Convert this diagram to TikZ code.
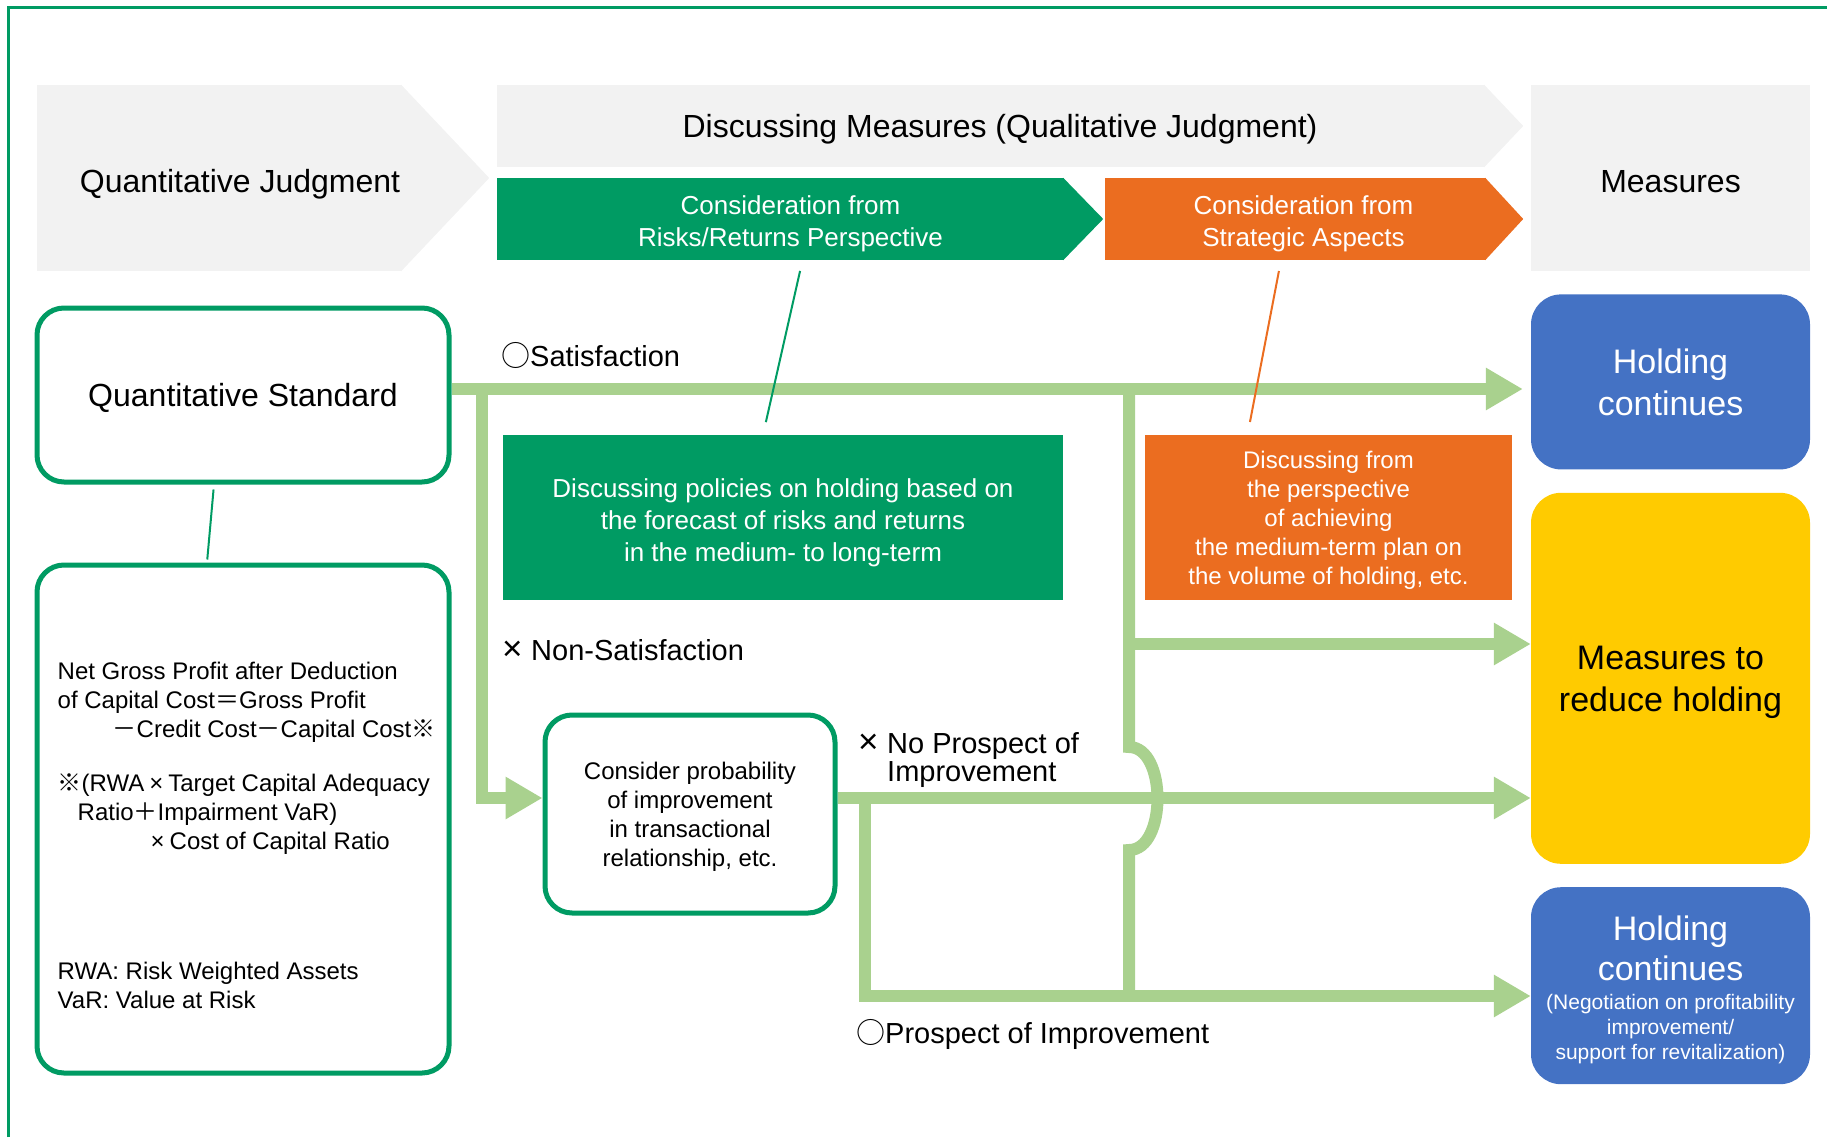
\documentclass[tikz,border=0pt]{standalone}
\usepackage{fontspec}
\setmainfont{Liberation Sans}
\newfontfamily\cjk{Noto Sans CJK JP}
\newcommand\jp[1]{{\cjk #1}}
\newcommand\tms{\makebox[1em]{×}}
\newcommand\lbx{\makebox[1em][l]{\fontsize{35}{35}\selectfont ×}}
\usetikzlibrary{arrows.meta,positioning,calc}
\definecolor{FlowGray}{HTML}{F2F2F2}
\definecolor{FlowGreen}{HTML}{009B63}
\definecolor{FlowOrange}{HTML}{EB6D20}
\definecolor{FlowBlue}{HTML}{4472C4}
\definecolor{FlowYellow}{HTML}{FFCB00}
\definecolor{FlowLight}{HTML}{A9D18E}
\begin{document}
\begin{tikzpicture}[x=1pt,y=-1pt,
    every node/.style={align=center,inner sep=0pt},
    headbox/.style={fill=FlowGray,minimum height=186pt,font={\fontsize{32}{38}\selectfont}},
    subchev/.style={minimum height=82pt},
    chevtext/.style={text=white,font={\fontsize{26}{32}\selectfont}},
    resultbox/.style={rounded corners=30pt,minimum width=279pt,text=white,font={\fontsize{34}{42}\selectfont}},
    stdbox/.style={draw=FlowGreen,line width=5pt,rounded corners=27pt,fill=white},
    notebox/.style={minimum height=165pt,text=white},
    cond/.style={font={\fontsize{29}{29}\selectfont},anchor=west},
    flow/.style={draw=FlowLight,line width=12pt,-{Triangle[length=37pt,width=40pt]}},
    flowline/.style={draw=FlowLight,line width=12pt},
    link/.style={line width=2pt}]
    \useasboundingbox (0,0) rectangle (1827,1137);
    \draw[FlowGreen,line width=3pt] (8,1137) -- (8,8) -- (1827,8);
    % top row
    \node[headbox,minimum width=365pt] (qj) at (219.5,178) {};
    \node[headbox,minimum width=988pt,minimum height=82pt] (dm) at (991,126) {};
    \node[subchev,fill=FlowGreen,minimum width=567pt] (rr) at (780.5,219) {};
    \node[subchev,fill=FlowOrange,minimum width=381pt] (sa) at (1295.5,219) {};
    \foreach \n/\d/\c in {qj/87/FlowGray,dm/38/FlowGray,rr/39/FlowGreen,sa/37/FlowOrange}{\fill[\c] ($(\n.north east)+(-1,0)$) -- ($(\n.east)+(\d,0)$) -- ($(\n.south east)+(-1,0)$) -- cycle;}
    \node[font={\fontsize{32}{38}\selectfont}] (qjtext) at (240,184) {Quantitative Judgment};
    \node[font={\fontsize{32}{38}\selectfont}] (dmtext) at ($(dm)+(9,3.5)$) {Discussing Measures (Qualitative Judgment)};
    \node[chevtext] (rrtext) at ($(rr)+(10,4.5)$) {Consideration from\\Risks/Returns Perspective};
    \node[chevtext] (satext) at ($(sa)+(8,4.5)$) {Consideration from\\Strategic Aspects};
    % measures column
    \node[headbox,minimum width=279pt,text depth=0pt,text height=28pt] (meas) at (1670.5,178) {Measures};
    \node[resultbox,fill=FlowBlue,minimum height=175pt,text depth=0pt,below=23pt of meas] (hold) {Holding\\continues};
    \node[resultbox,fill=FlowYellow,text=black,minimum height=371pt,text depth=0pt,below=23pt of hold] (reduce) {Measures to\\reduce holding};
    \node[resultbox,fill=FlowBlue,minimum height=197pt,below=23pt of reduce] (hold2) {};
    \node[text=white,font={\fontsize{34}{40}\selectfont}] (hold2a) at ($(hold2.north)+(0,61)$) {Holding\\continues};
    \node[text=white,font={\fontsize{21}{25}\selectfont}] (hold2b) at ($(hold2.north)+(0,142.5)$) {(Negotiation on profitability\\improvement/\\support for revitalization)};
    % left column
    \node[stdbox,minimum width=412pt,minimum height=174pt,text depth=0pt,font={\fontsize{32}{38}\selectfont}] (qs) at (243,395) {Quantitative Standard};
    \node[stdbox,minimum width=412pt,minimum height=508pt,below=78pt of qs] (fbox) {};
    \node[anchor=north west,align=left,font={\fontsize{24}{29}\selectfont}] (ftext) at ($(fbox.north west)+(23,99)$) {Net Gross Profit after Deduction\\of Capital Cost\jp{＝}Gross Profit\\\hspace*{55pt}\jp{－}Credit Cost\jp{－}Capital Cost\jp{※}\\[25pt]\jp{※}(RWA\tms Target Capital Adequacy\\\hspace*{20pt}Ratio\jp{＋}Impairment VaR)\\\hspace*{88pt}\tms Cost of Capital Ratio\\[101.5pt]RWA: Risk Weighted Assets\\VaR: Value at Risk};
    % middle
    \node[notebox,fill=FlowGreen,minimum width=560pt,text depth=0pt,text height=88pt,font={\fontsize{26}{32}\selectfont}] (gbox) at (783,517.5) {Discussing policies on holding based on\\the forecast of risks and returns\\in the medium- to long-term};
    \node[notebox,fill=FlowOrange,minimum width=367pt,text depth=0pt,font={\fontsize{24}{29}\selectfont}] (obox) at (1328.5,517.5) {Discussing from\\the perspective\\of achieving\\the medium-term plan on\\the volume of holding, etc.};
    \node[stdbox,minimum width=290pt,minimum height=198pt,text depth=0pt,font={\fontsize{24}{29}\selectfont}] (cons) at (690,814) {Consider probability\\of improvement\\in transactional\\relationship, etc.};
    % labels
    \node[cond] (sat) at (501,355) {\jp{○}Satisfaction};
    \node[cond] (nsat) at (502,650) {\lbx Non-Satisfaction};
    \node[cond,align=left] (noimp) at (858,760.5) {\lbx No Prospect of\\[-1pt]\phantom{\lbx}Improvement};
    \node[cond] (imp) at (856,1034) {\jp{○}Prospect of Improvement};
    % flow lines
    \coordinate (splitL) at (482,389);
    \coordinate (splitR) at (1129,389);
    \coordinate (branch) at (1129,644);
    \coordinate (hopT) at (1129,747);
    \coordinate (hopB) at (1129,850);
    \coordinate (joinB) at (1129,996);
    \coordinate (splitP) at (865,798);
    \draw[flow,shorten >=8pt] ([yshift=6pt]qs.east) -- ([yshift=6pt]qs.east -| hold.west);
    \draw[flow] (splitL) |- (cons.west |- splitP);
    \draw[flowline] (splitR) -- (hopT) .. controls (1167,747) and (1167,850) .. (hopB) -- (joinB);
    \draw[flow] (branch) -- (branch -| reduce.west);
    \draw[flow] ([yshift=16pt]cons.east) -- ([yshift=16pt]cons.east -| reduce.west);
    \draw[flow] (splitP) |- (hold2.west |- joinB);
    % thin links
    \draw[link,FlowGreen,shorten <=5pt,shorten >=3pt] ($(qs.south)+(-29,0)$) -- ($(fbox.north)+(-36,0)$);
    \draw[link,FlowGreen,shorten <=11pt,shorten >=13pt] ($(rr.south)+(22,0)$) -- ($(gbox.north)+(-20,0)$);
    \draw[link,FlowOrange,shorten <=11pt,shorten >=13pt] ($(sa.south)+(-14.5,0)$) -- ($(obox.north)+(-81,0)$);
\end{tikzpicture}
\end{document}
